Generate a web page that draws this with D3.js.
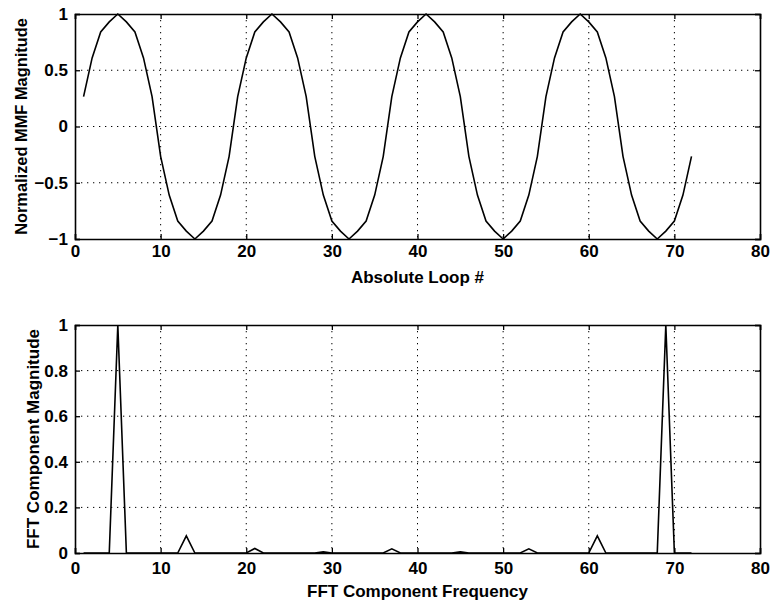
<!DOCTYPE html>
<html>
<head>
<meta charset="utf-8">
<script src="https://cdn.jsdelivr.net/npm/d3@7"></script>
<style>
  html, body { margin: 0; padding: 0; background: #fff; }
  svg text { font-family: "Liberation Sans", Arial, Helvetica, sans-serif; font-weight: bold; fill: #000; }
</style>
</head>
<body>
<svg id="chart" width="772" height="602"></svg>
<script>
// Normalized MMF per loop (loops 1..72)
const loopIndex = d3.range(1, 73);
const mmfValues = [
  0.265, 0.61, 0.84, 0.93, 1, 0.93, 0.84, 0.61, 0.265,
  -0.265, -0.61, -0.84, -0.93, -1, -0.93, -0.84, -0.61, -0.265,
  0.265, 0.61, 0.84, 0.93, 1, 0.93, 0.84, 0.61, 0.265,
  -0.265, -0.61, -0.84, -0.93, -1, -0.93, -0.84, -0.61, -0.265,
  0.265, 0.61, 0.84, 0.93, 1, 0.93, 0.84, 0.61, 0.265,
  -0.265, -0.61, -0.84, -0.93, -1, -0.93, -0.84, -0.61, -0.265,
  0.265, 0.61, 0.84, 0.93, 1, 0.93, 0.84, 0.61, 0.265,
  -0.265, -0.61, -0.84, -0.93, -1, -0.93, -0.84, -0.61, -0.265
];

// FFT component magnitudes (frequency bins 1..72)
const fftIndex = d3.range(1, 73);
const fftValues = [
  0, 0, 0, 0, 1, 0, 0, 0, 0, 0, 0, 0, 0.075, 0, 0, 0, 0, 0, 0, 0,
  0.02, 0, 0, 0, 0, 0, 0, 0, 0.005, 0, 0, 0, 0, 0, 0, 0, 0.018, 0, 0, 0,
  0, 0, 0, 0, 0.005, 0, 0, 0, 0, 0, 0, 0, 0.018, 0, 0, 0, 0, 0, 0, 0,
  0.075, 0, 0, 0, 0, 0, 0, 0, 1, 0, 0, 0
];

const xTicks = [0, 10, 20, 30, 40, 50, 60, 70, 80];
const mmfTicks = [-1, -0.5, 0, 0.5, 1];
const fftTicks = [0, 0.2, 0.4, 0.6, 0.8, 1];

const svg = d3.select("#chart");
const fmt = v => (v < 0 ? "\u2212" + Math.abs(v) : String(v));

function panel(opts) {
  const { top, bottom, left, right, xs, ys, yDomain, yTicks, xLabel, yLabel, yLabelX, yLabelSize, tickPad } = opts;
  const x = d3.scaleLinear().domain([0, 80]).range([left, right]);
  const y = d3.scaleLinear().domain(yDomain).range([bottom, top]);
  const g = svg.append("g");

  // dotted grid
  g.append("g").selectAll("line").data(xTicks.slice(1, -1)).join("line")
    .attr("x1", d => x(d)).attr("x2", d => x(d)).attr("y1", top).attr("y2", bottom)
    .attr("stroke", "#000").attr("stroke-width", 1).attr("stroke-dasharray", "1.3,4.7");
  g.append("g").selectAll("line").data(yTicks.slice(1, -1)).join("line")
    .attr("y1", d => y(d)).attr("y2", d => y(d)).attr("x1", left).attr("x2", right)
    .attr("stroke", "#000").attr("stroke-width", 1).attr("stroke-dasharray", "1.3,4.7");

  // axes with inward ticks
  const axB = d3.axisBottom(x).tickValues(xTicks).tickSize(-5).tickPadding(tickPad).tickFormat(fmt);
  const axT = d3.axisTop(x).tickValues(xTicks).tickSize(-5).tickFormat("");
  const axL = d3.axisLeft(y).tickValues(yTicks).tickSize(-5).tickPadding(7).tickFormat(fmt);
  const axR = d3.axisRight(y).tickValues(yTicks).tickSize(-5).tickFormat("");
  const gb = g.append("g").attr("transform", `translate(0,${bottom})`).call(axB);
  const gt = g.append("g").attr("transform", `translate(0,${top})`).call(axT);
  const gl = g.append("g").attr("transform", `translate(${left},0)`).call(axL);
  const gr = g.append("g").attr("transform", `translate(${right},0)`).call(axR);
  [gb, gt, gl, gr].forEach(a => {
    a.select(".domain").attr("stroke", "#000").attr("stroke-width", 1.6);
    a.selectAll(".tick line").attr("stroke", "#000").attr("stroke-width", 1.3);
    a.selectAll("text").style("font-size", "17px").attr("fill", "#000");
  });
  gb.selectAll("text").attr("dy", "0.75em");

  // data line
  const line = d3.line().x(d => x(d[0])).y(d => y(d[1]));
  g.append("path").datum(xs.map((v, i) => [v, ys[i]]))
    .attr("d", line).attr("fill", "none").attr("stroke", "#000")
    .attr("stroke-width", 1.6).attr("stroke-linejoin", "miter");

  g.append("text").attr("x", (left + right) / 2).attr("y", bottom + 44)
    .attr("text-anchor", "middle").style("font-size", "17px").text(xLabel);
  g.append("text")
    .attr("transform", `translate(${yLabelX},${(top + bottom) / 2}) rotate(-90)`)
    .attr("text-anchor", "middle").style("font-size", yLabelSize + "px").text(yLabel);
}

panel({
  top: 14, bottom: 239, left: 75, right: 760,
  xs: loopIndex, ys: mmfValues, yDomain: [-1, 1], yTicks: mmfTicks,
  xLabel: "Absolute Loop #", yLabel: "Normalized MMF Magnitude", yLabelX: 27,
  yLabelSize: 16.4, tickPad: 5
});

panel({
  top: 325, bottom: 553, left: 75, right: 760,
  xs: fftIndex, ys: fftValues, yDomain: [0, 1], yTicks: fftTicks,
  xLabel: "FFT Component Frequency", yLabel: "FFT Component Magnitude", yLabelX: 39,
  yLabelSize: 17, tickPad: 8
});
</script>
</body>
</html>
